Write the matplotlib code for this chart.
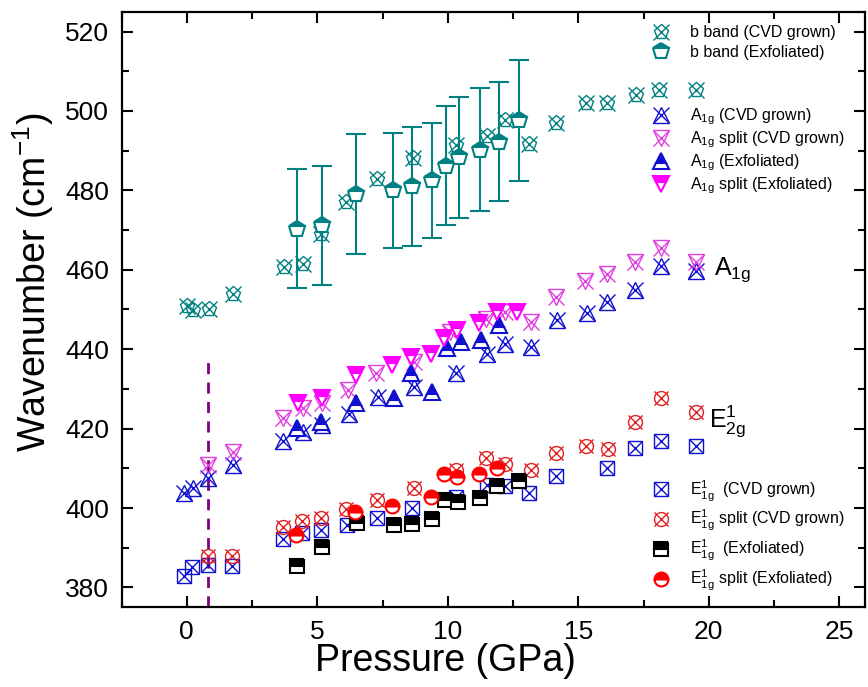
import numpy as np
import matplotlib
matplotlib.use("Agg")
import matplotlib.pyplot as plt
from matplotlib.legend_handler import HandlerTuple

plt.rcParams['font.family'] = ['Liberation Sans', 'DejaVu Sans']
plt.rcParams['mathtext.fontset'] = 'custom'
plt.rcParams['mathtext.rm'] = 'Liberation Sans'
plt.rcParams['mathtext.default'] = 'regular'

# b band
b_cvd_x = [0.0, 0.23, 0.87, 1.76, 3.74, 4.44, 5.14, 6.1, 7.3, 8.68, 10.3, 11.5, 12.2, 13.1, 14.15,
           15.28, 16.09, 17.2, 18.1, 19.5]
b_cvd_y = [450.8, 449.8, 450.2, 454.0, 460.7, 461.4, 468.9, 477.0, 482.9, 488.1, 491.3, 493.8, 497.6,
           491.7, 496.9, 502.1, 502.1, 504.1, 505.3, 505.3]
b_exf_x = [4.21, 5.18, 6.5, 7.92, 8.62, 9.41, 9.92, 10.43, 11.23, 11.96, 12.72]
b_exf_y = [470.3, 471.2, 479.1, 480.0, 481.0, 482.5, 486.2, 488.3, 490.2, 492.3, 497.6]
b_exf_err = [15.0, 15.0, 15.0, 14.5, 15.0, 14.5, 15.0, 15.3, 15.5, 15.0, 15.3]

# A1g
a_cvd_x = [-0.09, 0.23, 0.83, 1.76, 3.67, 4.44, 5.2, 6.2, 7.31, 8.71, 10.3, 11.5, 12.2, 13.17,
           14.19, 15.33, 16.1, 17.18, 18.15, 19.5]
a_cvd_y = [403.7, 405.0, 407.5, 410.9, 417.0, 419.2, 421.0, 423.8, 428.0, 430.5, 433.9, 438.9,
           441.4, 440.6, 447.3, 449.0, 451.9, 454.8, 461.0, 459.8]
as_cvd_x = [0.8, 1.76, 3.67, 4.44, 5.2, 6.16, 7.25, 8.71, 10.1, 11.45, 12.2, 13.17, 14.13, 15.27,
            16.1, 17.18, 18.15, 19.5]
as_cvd_y = [410.9, 414.2, 422.6, 425.1, 426.4, 429.7, 433.9, 436.8, 444.4, 447.7, 449.4, 446.9,
            453.2, 457.3, 459.0, 462.0, 465.6, 462.0]
a_exf_x = [4.24, 5.14, 6.48, 7.94, 8.58, 9.41, 9.98, 10.49, 11.26, 11.96]
a_exf_y = [420.1, 421.7, 426.4, 427.6, 433.9, 429.3, 440.2, 441.8, 442.3, 446.0]
as_exf_x = [4.25, 5.18, 6.5, 7.88, 8.58, 9.35, 9.85, 10.37, 11.2, 11.9, 12.66]
as_exf_y = [426.4, 427.6, 433.5, 436.0, 438.1, 438.9, 442.7, 444.8, 446.5, 449.4, 449.4]

# E
e_cvd_x = [-0.09, 0.21, 0.83, 1.72, 3.67, 4.41, 5.14, 6.12, 7.28, 8.64, 10.3, 11.5, 12.2, 13.13,
           14.13, 16.1, 17.16, 18.15, 19.5]
e_cvd_y = [382.8, 385.1, 385.7, 385.4, 392.2, 393.7, 394.5, 395.8, 397.5, 400.1, 402.9, 405.8,
           405.6, 403.9, 408.1, 410.0, 415.2, 416.8, 415.6]
es_cvd_x = [0.83, 1.72, 3.67, 4.41, 5.14, 6.1, 7.28, 8.71, 10.3, 11.45, 12.2, 13.17, 14.13, 15.3,
            16.14, 17.16, 18.15, 19.5]
es_cvd_y = [388.0, 388.0, 395.3, 396.8, 397.5, 399.7, 402.0, 405.0, 409.6, 412.5, 411.1, 409.6,
            413.9, 415.5, 414.8, 421.7, 427.7, 424.1]
e_exf_x = [4.21, 5.18, 6.51, 7.94, 8.62, 9.41, 9.9, 10.4, 11.22, 11.9, 12.72]
e_exf_y = [385.3, 390.3, 396.2, 395.8, 396.0, 397.3, 402.1, 401.6, 402.5, 405.5, 406.8]
es_exf_x = [4.18, 6.45, 7.88, 9.35, 9.85, 10.37, 11.2, 11.9]
es_exf_y = [393.3, 399.1, 400.6, 402.9, 408.6, 407.8, 408.6, 410.0]

dash_x = 0.83
dash_top = 437.7

TEAL = '#008080'
BLUE = '#1010D0'
MAG = '#E040E0'
MAGF = '#FF00FF'
RED = '#E02020'

fig = plt.figure(figsize=(8.68, 6.87), dpi=100)
ax = fig.add_axes([0.140, 0.116, 0.857, 0.867])


def crossed(x, y, marker, color, ms=11):
    # open marker with an x drawn over it
    h1, = ax.plot(x, y, ls='none', marker=marker, ms=ms, mfc='none', mec=color, mew=1.0)
    h2, = ax.plot(x, y, ls='none', marker='x', ms=ms * 1.05, mec=color, mew=1.0)
    return (h1, h2)


def half(x, y, marker, color, ms=11):
    h, = ax.plot(x, y, ls='none', marker=marker, ms=ms, fillstyle='top', mfc=color,
                 mfcalt='white', mec=color, mew=1.5)
    return h


ax.plot([dash_x, dash_x], [375, dash_top], color='#800080', ls=(0, (4, 3)), lw=2)

h_bc = crossed(b_cvd_x, b_cvd_y, 'p', TEAL)
ax.errorbar(b_exf_x, b_exf_y, yerr=b_exf_err, fmt='none', ecolor=TEAL, elinewidth=1.5,
            capsize=7, capthick=1.5)
h_be = half(b_exf_x, b_exf_y, 'p', TEAL, ms=12)

h_ac = crossed(a_cvd_x, a_cvd_y, '^', BLUE)
h_asc = crossed(as_cvd_x, as_cvd_y, 'v', MAG)
h_ae = half(a_exf_x, a_exf_y, '^', BLUE)
h_ase = half(as_exf_x, as_exf_y, 'v', MAGF)

h_ec = crossed(e_cvd_x, e_cvd_y, 's', BLUE, ms=10)
h_esc = crossed(es_cvd_x, es_cvd_y, 'o', RED, ms=10)
h_ee = half(e_exf_x, e_exf_y, 's', 'black', ms=10)
h_ese = half(es_exf_x, es_exf_y, 'o', 'red', ms=10)

ax.set_xlim(-2.5, 26)
ax.set_ylim(375, 525)
ax.set_xticks([0, 5, 10, 15, 20, 25])
ax.set_xticks(np.arange(-2.5, 26, 2.5), minor=True)
ax.set_yticks(np.arange(380, 521, 20))
ax.set_yticks(np.arange(380, 521, 10), minor=True)
ax.tick_params(which='both', direction='in', top=True, right=True, width=1.5)
ax.tick_params(which='major', length=8)
ax.tick_params(which='minor', length=5)
ax.tick_params(axis='y', labelsize=19, pad=9)
ax.tick_params(axis='x', labelsize=19, pad=9)
for s in ax.spines.values():
    s.set_linewidth(1.6)

ax.set_xlabel('Pressure (GPa)', fontsize=27)
ax.xaxis.set_label_coords(0.436, -0.06, transform=ax.transAxes)
ax.xaxis.label.set_va('top')
ax.set_ylabel('Wavenumber (cm$^{-1}$)', fontsize=27)
ax.yaxis.set_label_coords(-0.088, 0.545)

ax.text(20.2, 460, 'A$_{1g}$', fontsize=18, va='center')
ax.text(20.0, 422, 'E$^{1}_{2g}$', fontsize=18, va='center')

hm = {tuple: HandlerTuple(ndivide=1, pad=0)}
leg_kw = dict(frameon=False, fontsize=11.5, handletextpad=1.22, handlelength=1.2,
              borderaxespad=0, borderpad=0, handler_map=hm, loc='center left')
leg1 = ax.legend([h_bc, h_be], ['b band (CVD grown)', 'b band (Exfoliated)'],
                 bbox_to_anchor=(0.712, 0.948), labelspacing=0.3, **leg_kw)
ax.add_artist(leg1)
leg2 = ax.legend([h_ac, h_asc, h_ae, h_ase],
                 ['A$_{1g}$ (CVD grown)', 'A$_{1g}$ split (CVD grown)', 'A$_{1g}$ (Exfoliated)',
                  'A$_{1g}$ split (Exfoliated)'],
                 bbox_to_anchor=(0.712, 0.765), labelspacing=0.15, **leg_kw)
ax.add_artist(leg2)
ax.legend([h_ec, h_esc, h_ee, h_ese],
          ['E$^{1}_{1g}$  (CVD grown)', 'E$^{1}_{1g}$ split (CVD grown)', 'E$^{1}_{1g}$  (Exfoliated)',
           'E$^{1}_{1g}$ split (Exfoliated)'],
          bbox_to_anchor=(0.712, 0.12), labelspacing=0.3, **leg_kw)

fig.savefig('out.png', dpi=100)
